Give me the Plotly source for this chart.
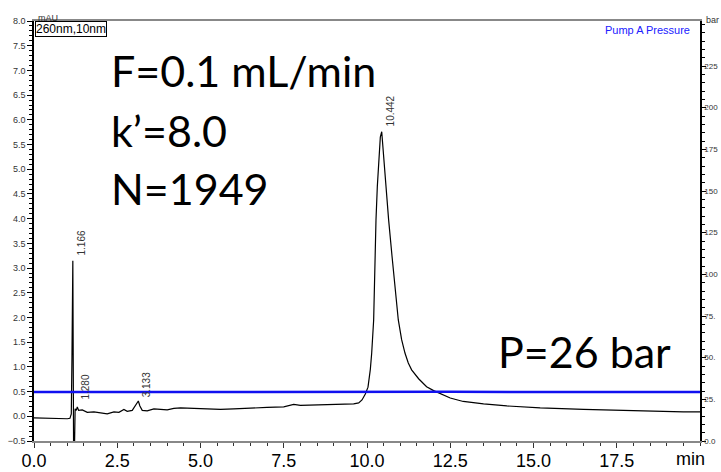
import plotly.graph_objects as go

# Chromatogram (UV 260 nm) : time in min, absorbance in mAU
time_min = [0.0, 0.3, 0.6, 1.0, 1.08, 1.12, 1.14, 1.166, 1.19, 1.21, 1.235, 1.27, 1.30, 1.34,
            1.45, 1.6, 1.8, 2.0, 2.2, 2.4, 2.55, 2.7, 2.8, 2.95, 3.05, 3.133, 3.18, 3.25,
            3.4, 3.6, 3.8, 4.0, 4.2, 4.4, 4.8, 5.2, 5.6, 6.0, 6.5, 7.0, 7.5, 7.8, 8.0,
            8.5, 9.0, 9.4, 9.6, 9.75, 9.85, 9.95, 10.03, 10.1, 10.14, 10.2, 10.24, 10.27,
            10.31, 10.36, 10.40, 10.442, 10.49, 10.57, 10.65, 10.75, 10.84, 10.94, 11.04,
            11.14, 11.24, 11.34, 11.55, 11.79, 12.0, 12.2, 12.5, 12.89, 13.5, 14.2, 15.2,
            16.5, 17.5, 18.5, 19.5, 20.0]
absorbance = [-0.03, -0.04, -0.05, -0.05, -0.04, 0.05, 1.2, 3.15, -0.9, -0.9, 0.15, 0.12, 0.19, 0.12,
              0.13, 0.08, 0.09, 0.07, 0.05, 0.09, 0.08, 0.14, 0.10, 0.12, 0.21, 0.31, 0.21, 0.12,
              0.11, 0.15, 0.14, 0.13, 0.16, 0.17, 0.16, 0.15, 0.14, 0.15, 0.17, 0.18, 0.19, 0.24, 0.22,
              0.23, 0.23, 0.25, 0.25, 0.27, 0.33, 0.45, 0.59, 0.95, 1.27, 1.95, 3.3, 3.97,
              4.65, 5.32, 5.65, 5.76, 5.32, 4.65, 3.97, 3.25, 2.62, 1.95, 1.55,
              1.28, 1.08, 0.94, 0.76, 0.60, 0.52, 0.46, 0.37, 0.30, 0.25, 0.21, 0.17,
              0.14, 0.12, 0.10, 0.09, 0.09]

# Pump A pressure (bar)
pressure_time = [0.0, 2.5, 5.0, 7.5, 10.0, 12.5, 15.0, 17.5, 20.0]
pressure_bar = [29.4, 29.5, 29.4, 29.5, 29.4, 29.5, 29.4, 29.5, 29.4]

# Integrated peak labels
peak_labels = ["1.166", "1.280", "3.133", "10.442"]
peak_label_x = [1.166, 1.28, 3.133, 10.442]
peak_label_y = [3.15, 0.23, 0.29, 5.76]

x_tick_vals = [0.0, 2.5, 5.0, 7.5, 10.0, 12.5, 15.0, 17.5]
x_tick_text = ["0.0", "2.5", "5.0", "7.5", "10.0", "12.5", "15.0", "17.5"]
# right-axis labels as visible in the reference (cut at the picture edge)
y2_tick_vals = [0, 25, 50, 75, 100, 125, 150, 175, 200, 225]
y2_tick_text = ["0.0", "25.", "50.", "75.", "100", "125", "150", "175", "200", "225"]

fig = go.Figure()
fig.add_trace(go.Scatter(x=time_min, y=absorbance, mode="lines",
                         line=dict(color="black", width=1.2), showlegend=False))
fig.add_trace(go.Scatter(x=pressure_time, y=pressure_bar, mode="lines", yaxis="y2",
                         line=dict(color="#1010f0", width=2.5), showlegend=False))

ann = []
for t, x, y in zip(peak_labels, peak_label_x, peak_label_y):
    ann.append(dict(x=x, y=y, xref="x", yref="y", text=t, showarrow=False, textangle=-90,
                    xanchor="left", yanchor="bottom", xshift=1, yshift=3,
                    font=dict(family="Liberation Sans, Arial", size=10, color="#333")))

big = dict(family="Lato, Carlito, Calibri", size=43, color="black")
ann += [
    dict(x=0.113, y=0.882, xref="paper", yref="paper", text="F=0.1 mL/min", showarrow=False,
         xanchor="left", yanchor="middle", font=big),
    dict(x=0.113, y=0.74, xref="paper", yref="paper", text="k’=8.0", showarrow=False,
         xanchor="left", yanchor="middle", font=big),
    dict(x=0.113, y=0.602, xref="paper", yref="paper", text="N=1949", showarrow=False,
         xanchor="left", yanchor="middle", font=big),
    dict(x=0.694, y=0.214, xref="paper", yref="paper", text="P=26 bar", showarrow=False,
         xanchor="left", yanchor="middle", font=big),
    dict(x=0, y=1, xref="paper", yref="paper", text="260nm,10nm", showarrow=False,
         xanchor="left", yanchor="top", xshift=1, bordercolor="black", borderwidth=1, borderpad=0,
         font=dict(family="Liberation Sans, Arial", size=12, color="black")),
    dict(x=0, y=1, xref="paper", yref="paper", text="mAU", showarrow=False,
         xanchor="left", yanchor="bottom", xshift=2, yshift=-4,
         font=dict(family="Liberation Sans, Arial", size=9, color="#333")),
    dict(x=1, y=1, xref="paper", yref="paper", text="bar", showarrow=False,
         xanchor="left", yanchor="bottom", xshift=4, yshift=-6,
         font=dict(family="Liberation Sans, Arial", size=9, color="#333")),
    dict(x=1, y=1, xref="paper", yref="paper", text="Pump A Pressure", showarrow=False,
         xanchor="right", yanchor="top", xshift=-8, yshift=-1,
         font=dict(family="Liberation Sans, Arial", size=11, color="#2020ff")),
    dict(x=1, y=0, xref="paper", yref="paper", text="min", showarrow=False,
         xanchor="center", yanchor="top", xshift=-10, yshift=-6,
         font=dict(family="Liberation Sans, Arial", size=18, color="black")),
]

fig.update_layout(
    width=721, height=472, template="none",
    paper_bgcolor="white", plot_bgcolor="white",
    margin=dict(l=34, r=21, t=21, b=31),
    annotations=ann,
    xaxis=dict(range=[0, 20], tickvals=x_tick_vals, ticktext=x_tick_text,
               showgrid=False, zeroline=False, showline=True, linecolor="#888", linewidth=1.5,
               mirror=True, ticks="outside", ticklen=5, tickcolor="#333", automargin=False,
               ticklabelstandoff=-2,
               minor=dict(dtick=0.5, ticks="outside", ticklen=3, tickcolor="#333"),
               tickfont=dict(family="Liberation Sans, Arial", size=18, color="black")),
    yaxis=dict(range=[-0.5, 8.0], dtick=0.5, tick0=0, tickformat=".1f",
               showgrid=False, zeroline=False, showline=True, linecolor="black", linewidth=1.5,
               ticks="outside", ticklen=5, tickcolor="black", automargin=False,
               minor=dict(dtick=0.1, ticks="outside", ticklen=3, tickcolor="black"),
               tickfont=dict(family="Liberation Sans, Arial", size=9, color="#333")),
    yaxis2=dict(range=[0, 252], tickvals=y2_tick_vals, ticktext=y2_tick_text,
                overlaying="y", side="right",
                showgrid=False, zeroline=False, showline=True, linecolor="black", linewidth=1.5,
                ticks="outside", ticklen=4, tickcolor="black", automargin=False,
                ticklabelstandoff=-3,
                minor=dict(dtick=5, ticks="outside", ticklen=3, tickcolor="black"),
                tickfont=dict(family="Liberation Sans, Arial", size=8, color="#333")),
)

fig.write_html("out.html", config={"displayModeBar": False},
               post_script="document.body.style.margin='0';document.body.style.overflow='hidden';")
